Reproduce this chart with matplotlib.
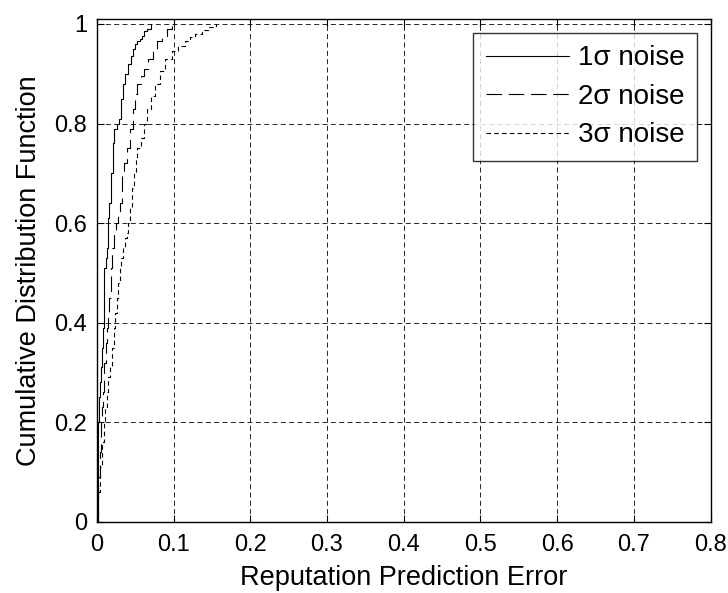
import matplotlib
matplotlib.use('Agg')
import matplotlib.pyplot as plt

err_1s = [0.0, 0.001, 0.002, 0.003, 0.004, 0.005, 0.007, 0.008, 0.009, 0.010, 0.012,
          0.013, 0.014, 0.015, 0.016, 0.018, 0.019, 0.021, 0.023, 0.026, 0.029, 0.031,
          0.034, 0.037, 0.040, 0.044, 0.047, 0.050, 0.053, 0.056, 0.059, 0.062, 0.065, 0.070]
cdf_1s = [0.0, 0.12, 0.20, 0.25, 0.28, 0.31, 0.35, 0.39, 0.45, 0.51, 0.53,
          0.55, 0.58, 0.61, 0.64, 0.67, 0.70, 0.76, 0.79, 0.80, 0.81, 0.85,
          0.88, 0.90, 0.92, 0.935, 0.95, 0.96, 0.965, 0.97, 0.975, 0.985, 0.99, 1.0]

err_2s = [0.0, 0.002, 0.004, 0.006, 0.007, 0.008, 0.010, 0.012, 0.013, 0.015, 0.016,
          0.018, 0.019, 0.020, 0.023, 0.025, 0.028, 0.030, 0.033, 0.036, 0.039, 0.043,
          0.047, 0.050, 0.053, 0.058, 0.062, 0.067, 0.073, 0.079, 0.085, 0.092, 0.098]
cdf_2s = [0.0, 0.09, 0.14, 0.20, 0.23, 0.26, 0.32, 0.36, 0.39, 0.42, 0.45,
          0.48, 0.51, 0.55, 0.58, 0.60, 0.62, 0.64, 0.70, 0.72, 0.75, 0.79,
          0.83, 0.86, 0.88, 0.895, 0.91, 0.93, 0.95, 0.965, 0.975, 0.99, 1.0]

err_3s = [0.0, 0.001, 0.004, 0.007, 0.009, 0.011, 0.013, 0.015, 0.017, 0.020, 0.022,
          0.024, 0.026, 0.028, 0.030, 0.032, 0.034, 0.037, 0.039, 0.041, 0.043, 0.046,
          0.048, 0.051, 0.053, 0.058, 0.062, 0.066, 0.071, 0.076, 0.082, 0.089, 0.098,
          0.106, 0.115, 0.122, 0.128, 0.137, 0.145, 0.155]
cdf_3s = [0.0, 0.06, 0.11, 0.16, 0.20, 0.23, 0.26, 0.29, 0.31, 0.35, 0.39,
          0.42, 0.45, 0.48, 0.51, 0.53, 0.55, 0.57, 0.58, 0.60, 0.63, 0.67,
          0.70, 0.73, 0.75, 0.77, 0.80, 0.83, 0.855, 0.88, 0.905, 0.93, 0.945,
          0.955, 0.965, 0.973, 0.98, 0.988, 0.993, 1.0]

labels = ['1σ noise', '2σ noise', '3σ noise']
x_ticks = [0, 0.1, 0.2, 0.3, 0.4, 0.5, 0.6, 0.7, 0.8]
y_ticks = [0, 0.2, 0.4, 0.6, 0.8, 1.0]

plt.rcParams['font.family'] = ['Liberation Sans', 'DejaVu Sans']

fig = plt.figure(figsize=(7.28, 5.93), dpi=100)
ax = fig.add_axes([0.133, 0.12, 0.843, 0.848])

ax.step(err_1s, cdf_1s, where='post', color='black', lw=0.8, linestyle='-', label=labels[0])
ax.step(err_2s, cdf_2s, where='post', color='black', lw=0.8, linestyle=(0, (14, 6)), label=labels[1])
ax.step(err_3s, cdf_3s, where='post', color='black', lw=0.8, linestyle=(0, (4, 3)), label=labels[2])

ax.set_xlim(0, 0.8)
ax.set_ylim(0, 1.01)
ax.set_xticks(x_ticks)
ax.set_xticklabels(['0', '0.1', '0.2', '0.3', '0.4', '0.5', '0.6', '0.7', '0.8'])
ax.set_yticks(y_ticks)
ax.set_yticklabels(['0', '0.2', '0.4', '0.6', '0.8', '1'])
ax.tick_params(direction='in', top=True, right=True, labelsize=17, length=5, width=0.8)
ax.tick_params(axis='x', pad=9)
ax.tick_params(axis='y', pad=7)
ax.grid(True, color='black', linestyle=(0, (6, 4)), linewidth=0.6)
for s in ax.spines.values():
    s.set_linewidth(1.0)

ax.set_xlabel('Reputation Prediction Error', fontsize=19.5, labelpad=6)
ax.set_ylabel('Cumulative Distribution Function', fontsize=19.5, labelpad=9)

leg = ax.legend(loc='upper right', fontsize=20, frameon=True, fancybox=False,
                edgecolor='black', handlelength=3.0, borderaxespad=0.5,
                labelspacing=0.45, handletextpad=0.3, borderpad=0.45)
leg.get_frame().set_linewidth(1.0)

fig.savefig('out.png', dpi=100)
